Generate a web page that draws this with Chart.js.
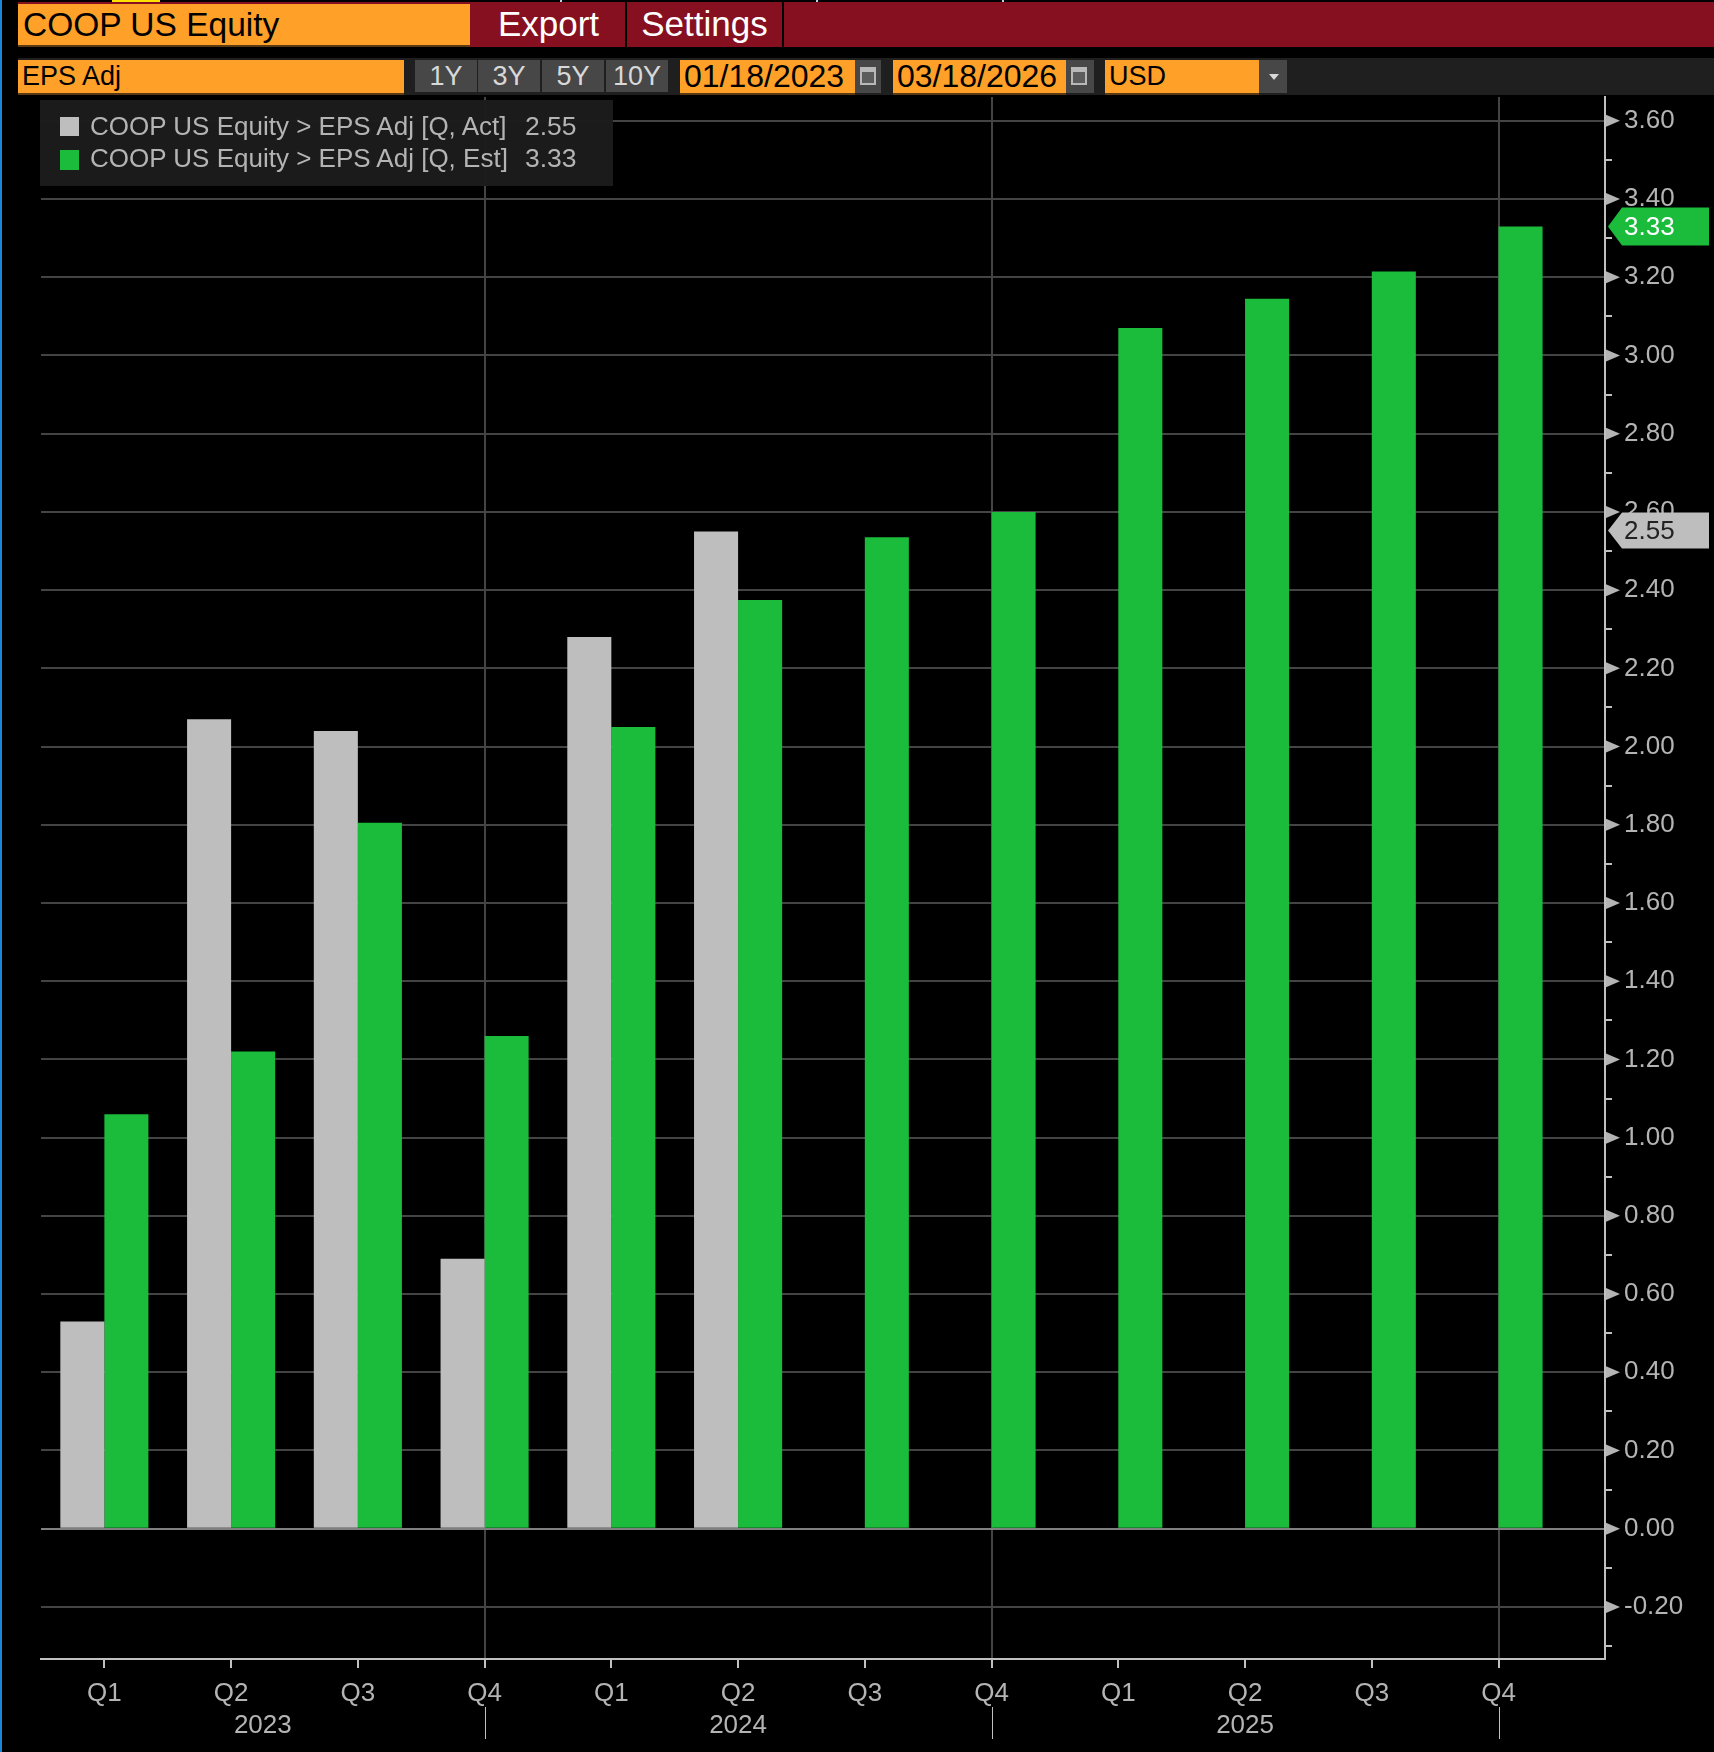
<!DOCTYPE html>
<html>
<head>
<meta charset="utf-8">
<title>COOP US Equity EPS Adj</title>
<script src="https://cdn.jsdelivr.net/npm/chart.js@4"></script>
<style>
html, body { margin: 0; padding: 0; background: #000; }
body { position: relative; width: 1714px; height: 1752px; overflow: hidden; font-family: "Liberation Sans", Arial, sans-serif; }
canvas { position: absolute; left: 0; top: 0; }
.box { position: absolute; white-space: nowrap; box-sizing: border-box; }
.orange { background: #ffa028; color: #000; box-shadow: 0 2px 0 #5a3a12; }
.btn { background: #474747; color: #d8d8d8; text-align: center; font-size: 27px; line-height: 32px; }
.red-text { color: #fff; font-size: 35px; line-height: 44px; text-align: center; }
.cal { background: #474747; }
.cal i { position: absolute; left: 5px; top: 7px; width: 16px; height: 18px; border: 2px solid #b8b8b8; border-top-width: 5px; box-sizing: border-box; background: #5c5c5c; }
.mark { width: 2px; height: 2px; top: 0; background: #b8d0e8; }
</style>
</head>
<body>
<canvas id="epsChart" width="1714" height="1752"></canvas>

<div class="box" style="left:0;top:0;width:2px;height:1752px;background:#1b87d8"></div>
<div class="box" style="left:112px;top:0;width:48px;height:2px;background:#ffe000"></div>
<div class="box mark" style="left:560px"></div>
<div class="box mark" style="left:816px"></div>
<div class="box mark" style="left:1002px"></div>

<div class="box" style="left:18px;top:2px;right:0;height:45px;background:#860f20"></div>
<div class="box orange" style="left:18px;top:4px;width:452px;height:41px;font-size:33.5px;line-height:41px;padding-left:5px">COOP US Equity</div>
<div class="box red-text" style="left:472px;top:2px;width:153px">Export</div>
<div class="box" style="left:625px;top:2px;width:2px;height:45px;background:#000"></div>
<div class="box red-text" style="left:627px;top:2px;width:155px">Settings</div>
<div class="box" style="left:782px;top:2px;width:2px;height:45px;background:#000"></div>

<div class="box" style="left:18px;top:58px;right:0;height:37px;background:#1f1f1f"></div>
<div class="box orange" style="left:18px;top:60px;width:386px;height:33px;font-size:27px;line-height:33px;padding-left:4px">EPS Adj</div>
<div class="box btn" style="left:415px;top:60px;width:62px;height:32px">1Y</div>
<div class="box btn" style="left:478px;top:60px;width:62px;height:32px">3Y</div>
<div class="box btn" style="left:542px;top:60px;width:62px;height:32px">5Y</div>
<div class="box btn" style="left:606px;top:60px;width:62px;height:32px">10Y</div>
<div class="box orange" style="left:680px;top:60px;width:175px;height:33px;font-size:32px;line-height:33px;padding-left:4px">01/18/2023</div>
<div class="box cal" style="left:855px;top:60px;width:26px;height:33px"><i></i></div>
<div class="box orange" style="left:893px;top:60px;width:173px;height:33px;font-size:32px;line-height:33px;padding-left:4px">03/18/2026</div>
<div class="box cal" style="left:1066px;top:60px;width:28px;height:33px"><i></i></div>
<div class="box orange" style="left:1105px;top:60px;width:154px;height:33px;font-size:27px;line-height:33px;padding-left:4px">USD</div>
<div class="box" style="left:1259px;top:60px;width:28px;height:33px;background:#474747"></div>
<div class="box" style="left:1269px;top:74px;width:0;height:0;border-left:5px solid transparent;border-right:5px solid transparent;border-top:6px solid #d8d8d8"></div>

<div class="box" id="legendBox" style="left:40px;top:100px;width:573px;height:86px;background:rgba(28,28,28,.97)"></div>

<script>
const quarters = ['Q1', 'Q2', 'Q3', 'Q4', 'Q1', 'Q2', 'Q3', 'Q4', 'Q1', 'Q2', 'Q3', 'Q4'];
const years = ['2023', '2024', '2025'];
const yearMidpoints = [1.25, 5, 9]; // year label sits mid way in its span
const yearEnds = [3, 7, 11];

const epsActual = [0.53, 2.07, 2.04, 0.69, 2.28, 2.55, null, null, null, null, null, null];
const epsEstimate = [1.06, 1.22, 1.805, 1.26, 2.05, 2.375, 2.535, 2.60, 3.07, 3.145, 3.215, 3.33];

const yTicks = [3.6, 3.5, 3.4, 3.3, 3.2, 3.1, 3.0, 2.9, 2.8, 2.7, 2.6, 2.5, 2.4, 2.3, 2.2, 2.1, 2.0, 1.9, 1.8, 1.7,
    1.6, 1.5, 1.4, 1.3, 1.2, 1.1, 1.0, 0.9, 0.8, 0.7, 0.6, 0.5, 0.4, 0.3, 0.2, 0.1, 0, -0.1, -0.2, -0.3];

const actName = 'COOP US Equity > EPS Adj [Q, Act]';
const estName = 'COOP US Equity > EPS Adj [Q, Est]';
const lastAct = 2.55;
const lastEst = 3.33;

const GREY = '#bebebe';
const GREEN = '#1bbb3b';
const AXIS_TEXT = '#b4b4b4';
const FONT = '"Liberation Sans", Arial, sans-serif';

function isLabelled(v) {
    return Math.round(v * 10) % 2 === 0;
}

// legend box, same text as the series
function addLegendRow(top, textTop, color, swatchH, name, value) {
    const box = document.getElementById('legendBox');
    const sw = document.createElement('div');
    sw.className = 'box';
    sw.style.cssText = 'left:20px;top:' + top + 'px;width:19px;height:' + swatchH + 'px;background:' + color;
    box.appendChild(sw);
    const txt = document.createElement('div');
    txt.className = 'box';
    txt.style.cssText = 'left:50px;top:' + textTop + 'px;font-size:26px;line-height:32px;color:' + AXIS_TEXT;
    txt.textContent = name;
    box.appendChild(txt);
    const val = document.createElement('div');
    val.className = 'box';
    val.style.cssText = 'left:485px;top:' + textTop + 'px;font-size:26.5px;line-height:32px;color:' + AXIS_TEXT;
    val.textContent = value.toFixed(2);
    box.appendChild(val);
}
addLegendRow(17, 10, GREY, 19, actName, lastAct);
addLegendRow(50, 42, GREEN, 20, estName, lastEst);

// triangles on the y axis, year labels and the last value tags
const extrasPlugin = {
    id: 'extras',
    afterDraw(chart) {
        const ctx = chart.ctx;
        const x = chart.scales.x;
        const y = chart.scales.y;
        const edge = chart.chartArea.right;
        ctx.save();

        ctx.fillStyle = '#b4b4b4';
        yTicks.filter(isLabelled).forEach(v => {
            const py = y.getPixelForValue(v);
            ctx.beginPath();
            ctx.moveTo(edge + 1, py - 6);
            ctx.lineTo(edge + 15, py);
            ctx.lineTo(edge + 1, py + 6);
            ctx.closePath();
            ctx.fill();
        });

        ctx.font = '26px ' + FONT;
        ctx.textAlign = 'center';
        ctx.textBaseline = 'middle';
        ctx.fillStyle = AXIS_TEXT;
        years.forEach((label, i) => {
            ctx.fillText(label, x.getPixelForValue(yearMidpoints[i]), 1726);
        });

        ctx.strokeStyle = '#c0c0c0';
        ctx.lineWidth = 1;
        yearEnds.forEach(i => {
            const px = Math.round(x.getPixelForValue(i)) + 0.5;
            ctx.beginPath();
            ctx.moveTo(px, 1707);
            ctx.lineTo(px, 1739);
            ctx.stroke();
        });

        drawTag(ctx, y.getPixelForValue(lastEst), GREEN, '#fff', lastEst.toFixed(2), 19);
        drawTag(ctx, y.getPixelForValue(lastAct) - 1, GREY, '#222', lastAct.toFixed(2), 18);
        ctx.restore();
    }
};

function drawTag(ctx, py, fill, color, label, half) {
    ctx.fillStyle = fill;
    ctx.beginPath();
    ctx.moveTo(1608, py);
    ctx.lineTo(1622, py - half);
    ctx.lineTo(1709, py - half);
    ctx.lineTo(1709, py + half);
    ctx.lineTo(1622, py + half);
    ctx.closePath();
    ctx.fill();
    ctx.fillStyle = color;
    ctx.font = '26px ' + FONT;
    ctx.textAlign = 'left';
    ctx.textBaseline = 'middle';
    ctx.fillText(label, 1624, py + 1);
}

new Chart(document.getElementById('epsChart').getContext('2d'), {
    type: 'bar',
    data: {
        datasets: [
            {
                label: actName,
                data: epsActual.map((v, i) => ({ x: i, y: v })),
                backgroundColor: GREY,
                borderWidth: 0
            },
            {
                label: estName,
                data: epsEstimate.map((v, i) => ({ x: i, y: v })),
                backgroundColor: GREEN,
                borderWidth: 0
            }
        ]
    },
    options: {
        responsive: false,
        devicePixelRatio: 1,
        animation: false,
        categoryPercentage: 0.695,
        barPercentage: 1,
        layout: { padding: { left: 41, top: 97, right: 0, bottom: 0 } },
        plugins: { legend: { display: false }, tooltip: { enabled: false } },
        scales: {
            x: {
                type: 'linear',
                offset: false,
                bounds: 'data',
                min: -0.5,
                max: 11.84,
                afterBuildTicks: scale => { scale.ticks = quarters.map((q, i) => ({ value: i })); },
                afterFit: scale => { scale.height = 93; },
                grid: {
                    offset: false,
                    color: ctx => (ctx.tick && yearEnds.includes(ctx.tick.value) ? '#444' : 'transparent'),
                    tickColor: '#c0c0c0',
                    tickLength: 9,
                    lineWidth: 2
                },
                border: { color: '#c0c0c0', width: 2 },
                ticks: {
                    autoSkip: false,
                    maxRotation: 0,
                    padding: 10,
                    color: AXIS_TEXT,
                    font: { family: FONT, size: 26 },
                    callback: (value, index) => quarters[index]
                }
            },
            y: {
                position: 'right',
                bounds: 'data',
                min: -0.3332,
                max: 3.661,
                afterBuildTicks: scale => { scale.ticks = yTicks.map(v => ({ value: v })); },
                afterFit: scale => { scale.width = 109; },
                grid: {
                    color: ctx => {
                        if (!ctx.tick) return 'transparent';
                        if (ctx.tick.value === 0) return '#808080';
                        return isLabelled(ctx.tick.value) ? '#444' : 'transparent';
                    },
                    lineWidth: 2,
                    tickColor: ctx => (ctx.tick && isLabelled(ctx.tick.value) ? 'transparent' : '#c0c0c0'),
                    tickLength: 7
                },
                border: { color: '#c0c0c0', width: 2 },
                ticks: {
                    autoSkip: false,
                    padding: 12,
                    color: AXIS_TEXT,
                    font: { family: FONT, size: 26 },
                    callback: value => (isLabelled(value) ? value.toFixed(2) : '')
                }
            }
        }
    },
    plugins: [extrasPlugin]
});
</script>
</body>
</html>
